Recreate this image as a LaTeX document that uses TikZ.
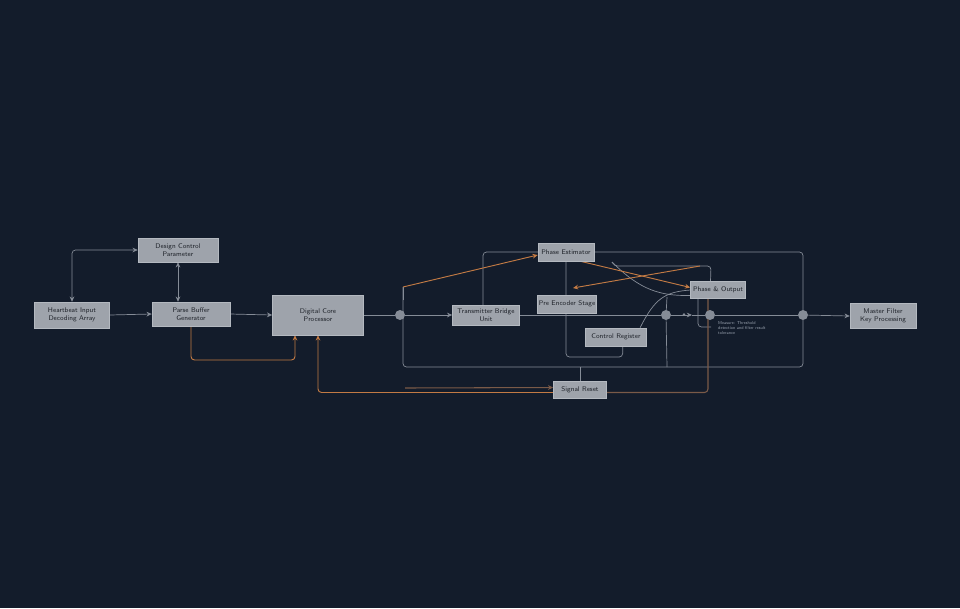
\documentclass[tikz,border=0pt]{standalone}
\usepackage{tikz}
\usetikzlibrary{arrows.meta,backgrounds,calc}
\definecolor{bgnavy}{HTML}{131C2B}
\definecolor{boxgray}{HTML}{9EA3AB}
\definecolor{boxedge}{HTML}{B4B9C0}
\definecolor{inkdark}{HTML}{1E2229}
\definecolor{wiregray}{HTML}{858C97}
\definecolor{wireorange}{HTML}{C27A44}
\definecolor{wirebrown}{HTML}{7A5A48}
\definecolor{notegray}{HTML}{9AA3B0}

\begin{document}
\begin{tikzpicture}[x=0.03cm,y=-0.03cm]
    \tikzstyle{block}=[draw=boxedge,line width=0.4pt,fill=boxgray,text=inkdark,inner sep=1pt,align=center,font=\sffamily\fontsize{5.8}{6.8}\selectfont]
    \tikzstyle{joint}=[circle,fill=wiregray,minimum size=0.3cm,inner sep=0pt]
    \tikzstyle{gline}=[wiregray,line width=0.6pt,rounded corners=3pt]
    \tikzstyle{oline}=[wireorange,line width=0.8pt,rounded corners=3pt]
    \tikzstyle{bline}=[wirebrown,line width=0.9pt,rounded corners=3pt]
    \tikzstyle{tip}=[-{Stealth[length=4.5pt,width=4pt]}]
    \tikzstyle{tips}=[{Stealth[length=4.5pt,width=4pt]}-{Stealth[length=4.5pt,width=4pt]}]
    \useasboundingbox (0,0) rectangle (960,608);
    % blocks
    \node[block,minimum width=2.25cm,minimum height=0.78cm] (input) at (72,315) {Heartbeat Input\\Decoding Array};
    \node[block,minimum width=2.4cm,minimum height=0.72cm] (design) at (178,250) {Design Control\\Parameter};
    \node[block,minimum width=2.34cm,minimum height=0.72cm] (parse) at (191,314) {Parse Buffer\\Generator};
    \node[block,minimum width=2.73cm,minimum height=1.2cm] (core) at (318,315) {Digital Core\\Processor};
    \node[block,minimum width=2.01cm,minimum height=0.6cm] (bridge) at (486,315) {Transmitter Bridge\\Unit};
    \node[block,minimum width=1.68cm,minimum height=0.54cm] (estim) at (566,252) {Phase Estimator};
    \node[block,minimum width=1.77cm,minimum height=0.54cm] (preenc) at (567,304) {Pre Encoder Stage};
    \node[block,minimum width=1.83cm,minimum height=0.54cm] (ctrl) at (616,337) {Control Register};
    \node[block,minimum width=1.65cm,minimum height=0.51cm] (phout) at (718,290) {Phase \& Output};
    \node[block,minimum width=1.59cm,minimum height=0.51cm] (reset) at (580,390) {Signal Reset};
    \node[block,minimum width=1.98cm,minimum height=0.75cm] (master) at (883,316) {Master Filter\\Key Processing};
    \node[joint] (j1) at (400,315) {};
    \node[joint] (j2) at (666,315) {};
    \node[joint] (j3) at (710,315) {};
    \node[joint] (j4) at (803,315) {};
    \node[anchor=north west,text=notegray,align=left,inner sep=0pt,font=\sffamily\fontsize{3.6}{4.6}\selectfont] (note) at (718,321) {Measure: Threshold\\detection and filter result\\tolerance};
    % free ends
    \coordinate (loopend) at (403,287);
    \coordinate (xstart) at (700,266);
    \coordinate (xend) at (573,288);
    \coordinate (tapsplit) at (612,262);
    \coordinate (fbstart) at (405,388);
    \begin{scope}[on background layer]
    \fill[bgnavy] (0,0) rectangle (960,608);
    % grey wiring
    \draw[gline,tips] (input.north) |- (design.west);
    \draw[gline,tips] (design.south) -- (design.south |- parse.north);
    \draw[gline,tip] (input.east) -- (parse.west);
    \draw[gline,tip] (parse.east) -- (core.west);
    \draw[gline] (core.east) -- (j1);
    \draw[gline,tip] (j1) -- (bridge.west);
    \draw[gline] (bridge.east) -- (j2);
    \draw[gline,tip] (j2) -- (692,315);
    \draw[gline] (692,315) -- (j3);
    \fill[wiregray] (684,314.5) circle (1.3);
    \draw[gline] (j3) -- (j4);
    \draw[gline,tip] (j4) -- (master.west);
    \draw[gline] (estim.east) -| (j4.north);
    \draw[gline] (j4.south) |- (loopend |- 0,367) -- (loopend);
    \draw[gline] ([xshift=-0.09cm]bridge.north) |- (estim.west);
    \draw[gline] (estim.south) -- (566,357) -| ([xshift=0.2cm]ctrl.south);
    \draw[gline] (reset.north) -- (reset.north |- 0,367);
    \draw[gline] (667,297) -- (j2) -- (667,367);
    \draw[gline] (tapsplit) -- (614,266) -- (711,266) -- ([xshift=-0.225cm]phout.north);
    \draw[gline] (tapsplit) .. controls (640,290) and (660,296) .. ([yshift=-0.165cm]phout.west);
    \draw[gline] ([xshift=-0.2cm]ctrl.north east) .. controls (655,298) and (665,292) .. (phout.west);
    \draw[gline] ([xshift=-0.6cm]phout.south) -- (698,327) -- (711,327);
    % orange and brown wiring
    \draw[gline] (403,300) -- (loopend);
    \draw[oline,tip] (loopend) -- ([yshift=-0.09cm]estim.west);
    \draw[oline,tip] (parse.south) |- (295,360) -- ([xshift=-0.69cm]core.south);
    \draw[oline,tip] ([yshift=-0.075cm]reset.west) -| (core.south);
    \draw[bline,tip] (fbstart) -- ([yshift=0.075cm]reset.west);
    \draw[bline] ([yshift=-0.075cm]reset.east) -| ([xshift=-0.3cm]phout.south);
    \draw[oline,tip] ([xshift=-0.42cm]estim.south east) -- ([yshift=0.075cm]phout.west);
    \draw[oline,tip] (xstart) -- (xend);
    \end{scope}
\end{tikzpicture}
\end{document}
